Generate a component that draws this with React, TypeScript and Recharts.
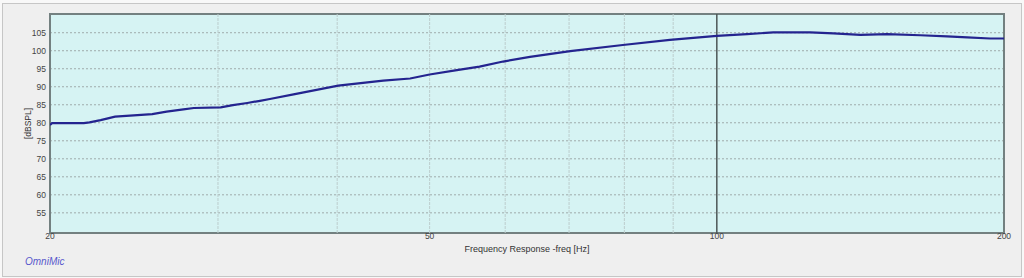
import { LineChart, Line, XAxis, YAxis, CartesianGrid, ReferenceLine, ReferenceArea, Label } from "recharts";

// frequency response readout (Hz -> dB SPL)
const freqs = [20, 20.1, 21.7, 22, 22.6, 23.4, 24.7, 25.6, 26.5, 27.6, 28.3, 30.2, 31.1, 32.2, 33.2, 34, 36, 40.1, 44.7, 47.7, 50, 53.4, 56.4, 59.7, 63.7, 70.2, 79.7, 89.3, 100, 107.6, 114.6, 125.3, 132.5, 141.4, 150.8, 163.4, 174.3, 183, 193.4, 200];
const spl = [79.4, 79.9, 79.9, 80.1, 80.75, 81.7, 82.1, 82.4, 83.1, 83.7, 84.1, 84.3, 84.9, 85.5, 86.1, 86.6, 87.9, 90.3, 91.7, 92.3, 93.4, 94.6, 95.6, 97.0, 98.3, 99.9, 101.6, 103.0, 104.1, 104.6, 105.1, 105.1, 104.8, 104.4, 104.6, 104.3, 104.0, 103.7, 103.4, 103.4];

const xTicks = [20, 50, 100, 200];
const xGrid = [30, 40, 50, 60, 70, 80, 90];
const yTicks = [55, 60, 65, 70, 75, 80, 85, 90, 95, 100, 105];
const yDomain = [49.4, 110.2];

const data = freqs.map((f, i) => ({ f, spl: spl[i] }));

const font = "'Liberation Sans', Arial, sans-serif";

export default function App() {
  return (
    <div style={{ position: "relative", width: 1024, height: 278, background: "#f8f8f8", fontFamily: font }}>
      <style>{"body{margin:0}"}</style>
      <div style={{ position: "absolute", left: 2, top: 3, width: 1018, height: 272, border: "1px solid #c6c6c6", background: "#efefef" }} />
      <div style={{ position: "absolute", left: 0, top: 0 }}>
        <LineChart width={1024} height={278} data={data} margin={{ top: 14, right: 20, bottom: 25, left: 6 }}>
          <CartesianGrid vertical={false} fill="#d6f3f3" stroke="#9fabab" strokeDasharray="2 2" />
          {xGrid.map((x) => (
            <ReferenceLine key={x} x={x} stroke="#bccdcd" strokeWidth={1} strokeDasharray="3 1" />
          ))}
          <ReferenceLine x={100} stroke="#4c5555" strokeWidth={1.5} />
          <XAxis
            dataKey="f"
            type="number"
            scale="log"
            domain={[20, 200]}
            ticks={xTicks}
            allowDataOverflow
            axisLine={false}
            tickLine={false}
            tickSize={0}
            tickMargin={0}
            height={20}
            tick={{ fontSize: 8.5, fill: "#444", fontFamily: font }}
            interval={0}
          >
            <Label value="Frequency Response -freq [Hz]" position="insideBottom" offset={1} style={{ fontSize: 9, fill: "#333", fontFamily: font }} />
          </XAxis>
          <YAxis
            type="number"
            domain={yDomain}
            ticks={yTicks}
            allowDataOverflow
            axisLine={false}
            tickLine={false}
            tickSize={2}
            tickMargin={2}
            width={44}
            tick={{ fontSize: 8.5, fill: "#444", fontFamily: font }}
            interval={0}
          >
            <Label value="[dBSPL]" angle={-90} position="center" style={{ fontSize: 8.5, fill: "#333", fontFamily: font }} />
          </YAxis>
          <ReferenceArea x1={20} x2={200} y1={yDomain[0]} y2={yDomain[1]} fill="none" stroke="#738080" strokeWidth={2} />
          <Line dataKey="spl" stroke="#24248f" strokeWidth={2.2} dot={false} type="linear" isAnimationActive={false} />
        </LineChart>
      </div>
      <div style={{ position: "absolute", left: 25, top: 256, fontSize: 10, fontStyle: "italic", color: "#5757cc" }}>OmniMic</div>
    </div>
  );
}
